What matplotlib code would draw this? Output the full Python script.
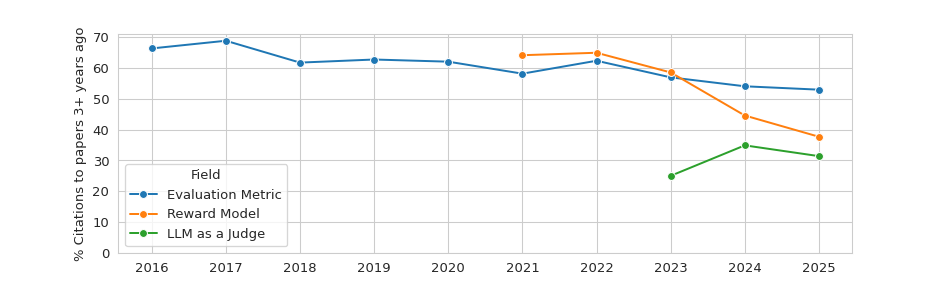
import matplotlib
matplotlib.use("Agg")
import matplotlib.pyplot as plt
from matplotlib.ticker import MultipleLocator
import seaborn as sns

sns.set_style("whitegrid")

years_eval = [2016, 2017, 2018, 2019, 2020, 2021, 2022, 2023, 2024, 2025]
eval_metric = [66.4, 68.9, 61.8, 62.8, 62.1, 58.2, 62.4, 57.0, 54.1, 53.0]

years_reward = [2021, 2022, 2023, 2024, 2025]
reward_model = [64.2, 65.0, 58.6, 44.6, 37.7]

years_judge = [2023, 2024, 2025]
llm_judge = [25.0, 34.9, 31.4]

fig, ax = plt.subplots(figsize=(10, 3), dpi=94.7)
pal = sns.color_palette("tab10")
for xs, ys, lab, c in [(years_eval, eval_metric, "Evaluation Metric", pal[0]),
                       (years_reward, reward_model, "Reward Model", pal[1]),
                       (years_judge, llm_judge, "LLM as a Judge", pal[2])]:
    ax.plot(xs, ys, marker="o", color=c, label=lab, linewidth=1.5,
            markersize=6, markeredgecolor="white", markeredgewidth=0.75)

ax.set_ylim(bottom=0)
ax.yaxis.set_major_locator(MultipleLocator(10))
ax.set_xticks(years_eval)
ax.set_ylabel("% Citations to papers 3+ years ago")
ax.legend(title="Field", loc="lower left")
fig.savefig("out.png", dpi=94.7)
